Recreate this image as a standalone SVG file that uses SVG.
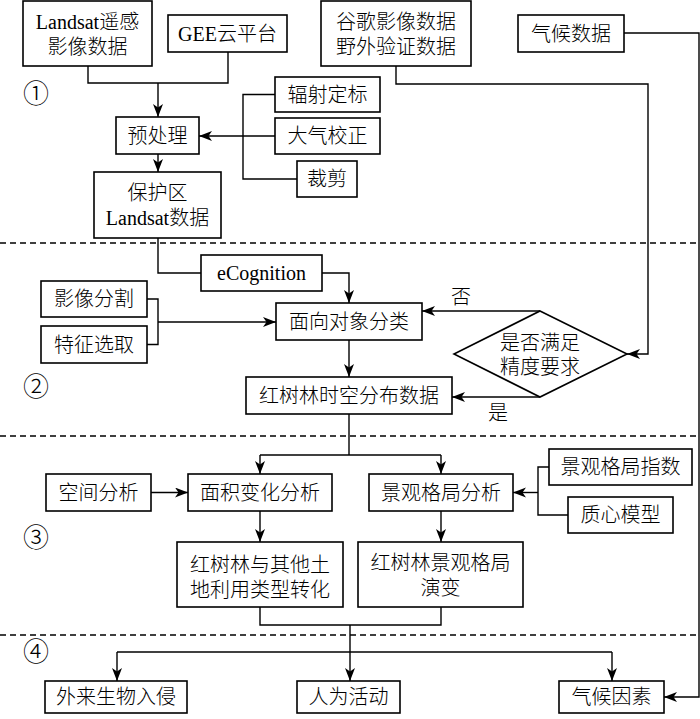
<svg xmlns="http://www.w3.org/2000/svg" width="700" height="719" viewBox="0 0 700 719">
<style>
.b{fill:#fff;stroke:#000;stroke-width:1.6}
.t{font-family:"Liberation Serif","Noto Sans CJK SC",serif;font-size:20px;font-weight:300;fill:#000;text-anchor:middle}
.c{fill:none;stroke:#000;stroke-width:1.4}
.a{fill:none;stroke:#000;stroke-width:1.4;marker-end:url(#ar)}
.d{fill:none;stroke:#000;stroke-width:1.3;stroke-dasharray:6,4}
.n{font-family:"Noto Sans CJK SC",sans-serif;font-size:26px;font-weight:300;fill:#000;text-anchor:middle}
</style>
<defs>
<marker id="ar" markerUnits="userSpaceOnUse" markerWidth="14" markerHeight="12" refX="13" refY="5" orient="auto">
<path d="M0,0 L13,5 L0,10 L3.5,5 z" fill="#000"/>
</marker>
</defs>
<rect width="700" height="719" fill="#fff"/>
<g id="separators">
<line class="d" x1="0" y1="243" x2="697" y2="243"/>
<line class="d" x1="0" y1="436" x2="697" y2="436"/>
<line class="d" x1="0" y1="635" x2="697" y2="635"/>
</g>
<g id="stage-labels">
<text class="n" x="36" y="103">①</text>
<text class="n" x="36" y="396">②</text>
<text class="n" x="36" y="547">③</text>
<text class="n" x="36" y="661">④</text>
</g>
<g id="connectors">
<path class="c" d="M88,66 V83 H228 V52"/>
<path class="a" d="M158,83 V117"/>
<path class="a" d="M158,154 V172"/>
<path class="c" d="M275,94.5 H243 V179 H297"/>
<path class="a" d="M275,136 H199"/>
<path class="a" d="M396,66 V84 H648 V354 H627"/>
<path class="a" d="M624,33 H699 V697 H664"/>
<path class="c" d="M158,238 V273 H201"/>
<path class="a" d="M322,273 H349 V303"/>
<path class="c" d="M147,299 H158 V344.5 H147"/>
<path class="a" d="M158,322 H276"/>
<path class="a" d="M349,340 V377"/>
<path class="a" d="M540,311 H422"/>
<path class="a" d="M540,397 H452"/>
<path class="c" d="M349,414 V455"/>
<path class="c" d="M260,455 H441"/>
<path class="a" d="M260,455 V474"/>
<path class="a" d="M441,455 V474"/>
<path class="a" d="M151,492.5 H188"/>
<path class="a" d="M260,511 V542"/>
<path class="a" d="M441,511 V542"/>
<path class="c" d="M549,467 H538 V515 H568"/>
<path class="a" d="M538,492.5 H513"/>
<path class="c" d="M260,607 V625 H441 V607"/>
<path class="a" d="M350,625 V681"/>
<path class="c" d="M117,652 H612"/>
<path class="a" d="M117,652 V681"/>
<path class="a" d="M612,652 V681"/>
<text class="t" x="461" y="304">否</text>
<text class="t" x="498" y="420">是</text>
</g>
<g id="landsat"><rect class="b" x="23" y="1" width="129" height="65"/><text class="t" x="87.5" y="29">Landsat遥感</text><text class="t" x="87.5" y="54">影像数据</text></g>
<g id="gee"><rect class="b" x="168" y="15" width="119" height="37"/><text class="t" x="227.5" y="40.5">GEE云平台</text></g>
<g id="google"><rect class="b" x="321" y="1" width="150" height="65"/><text class="t" x="396" y="29">谷歌影像数据</text><text class="t" x="396" y="54">野外验证数据</text></g>
<g id="climate"><rect class="b" x="518" y="15" width="106" height="37"/><text class="t" x="571" y="40.5">气候数据</text></g>
<g id="radiometric"><rect class="b" x="275" y="77" width="105" height="35"/><text class="t" x="327.5" y="101.5">辐射定标</text></g>
<g id="atmospheric"><rect class="b" x="275" y="118" width="105" height="36"/><text class="t" x="327.5" y="143">大气校正</text></g>
<g id="clip"><rect class="b" x="297" y="161" width="60" height="36"/><text class="t" x="327" y="186">裁剪</text></g>
<g id="preprocess"><rect class="b" x="116" y="117" width="83" height="37"/><text class="t" x="157.5" y="142.5">预处理</text></g>
<g id="reserve"><rect class="b" x="94" y="172" width="127" height="66"/><text class="t" x="157.5" y="200">保护区</text><text class="t" x="157.5" y="225">Landsat数据</text></g>
<g id="ecognition"><rect class="b" x="201" y="255" width="121" height="36"/><text class="t" x="261.5" y="280">eCognition</text></g>
<g id="segmentation"><rect class="b" x="41" y="281" width="106" height="36"/><text class="t" x="94" y="306">影像分割</text></g>
<g id="feature"><rect class="b" x="41" y="326" width="106" height="37"/><text class="t" x="94" y="351.5">特征选取</text></g>
<g id="obia"><rect class="b" x="276" y="303" width="146" height="37"/><text class="t" x="349" y="328.5">面向对象分类</text></g>
<g id="distribution"><rect class="b" x="246" y="377" width="206" height="37"/><text class="t" x="349" y="402.5">红树林时空分布数据</text></g>
<g id="accuracy"><polygon class="b" points="540,311 627,354 540,397 454,354"/><text class="t" x="540" y="350">是否满足</text><text class="t" x="540" y="374">精度要求</text></g>
<g id="spatial"><rect class="b" x="46" y="474" width="105" height="37"/><text class="t" x="98.5" y="499.5">空间分析</text></g>
<g id="area"><rect class="b" x="188" y="474" width="144" height="37"/><text class="t" x="260" y="499.5">面积变化分析</text></g>
<g id="landscape"><rect class="b" x="369" y="474" width="144" height="37"/><text class="t" x="441" y="499.5">景观格局分析</text></g>
<g id="index"><rect class="b" x="549" y="449" width="143" height="36"/><text class="t" x="620.5" y="474">景观格局指数</text></g>
<g id="centroid"><rect class="b" x="568" y="497" width="105" height="36"/><text class="t" x="620.5" y="522">质心模型</text></g>
<g id="landuse"><rect class="b" x="177" y="542" width="166" height="65"/><text class="t" x="260" y="572">红树林与其他土</text><text class="t" x="260" y="597">地利用类型转化</text></g>
<g id="evolution"><rect class="b" x="358" y="542" width="165" height="65"/><text class="t" x="440.5" y="570">红树林景观格局</text><text class="t" x="440.5" y="595">演变</text></g>
<g id="invasion"><rect class="b" x="45" y="681" width="142" height="32"/><text class="t" x="116" y="704">外来生物入侵</text></g>
<g id="human"><rect class="b" x="297" y="681" width="103" height="32"/><text class="t" x="348.5" y="704">人为活动</text></g>
<g id="climatefactor"><rect class="b" x="559" y="681" width="105" height="32"/><text class="t" x="611.5" y="704">气候因素</text></g>
</svg>
